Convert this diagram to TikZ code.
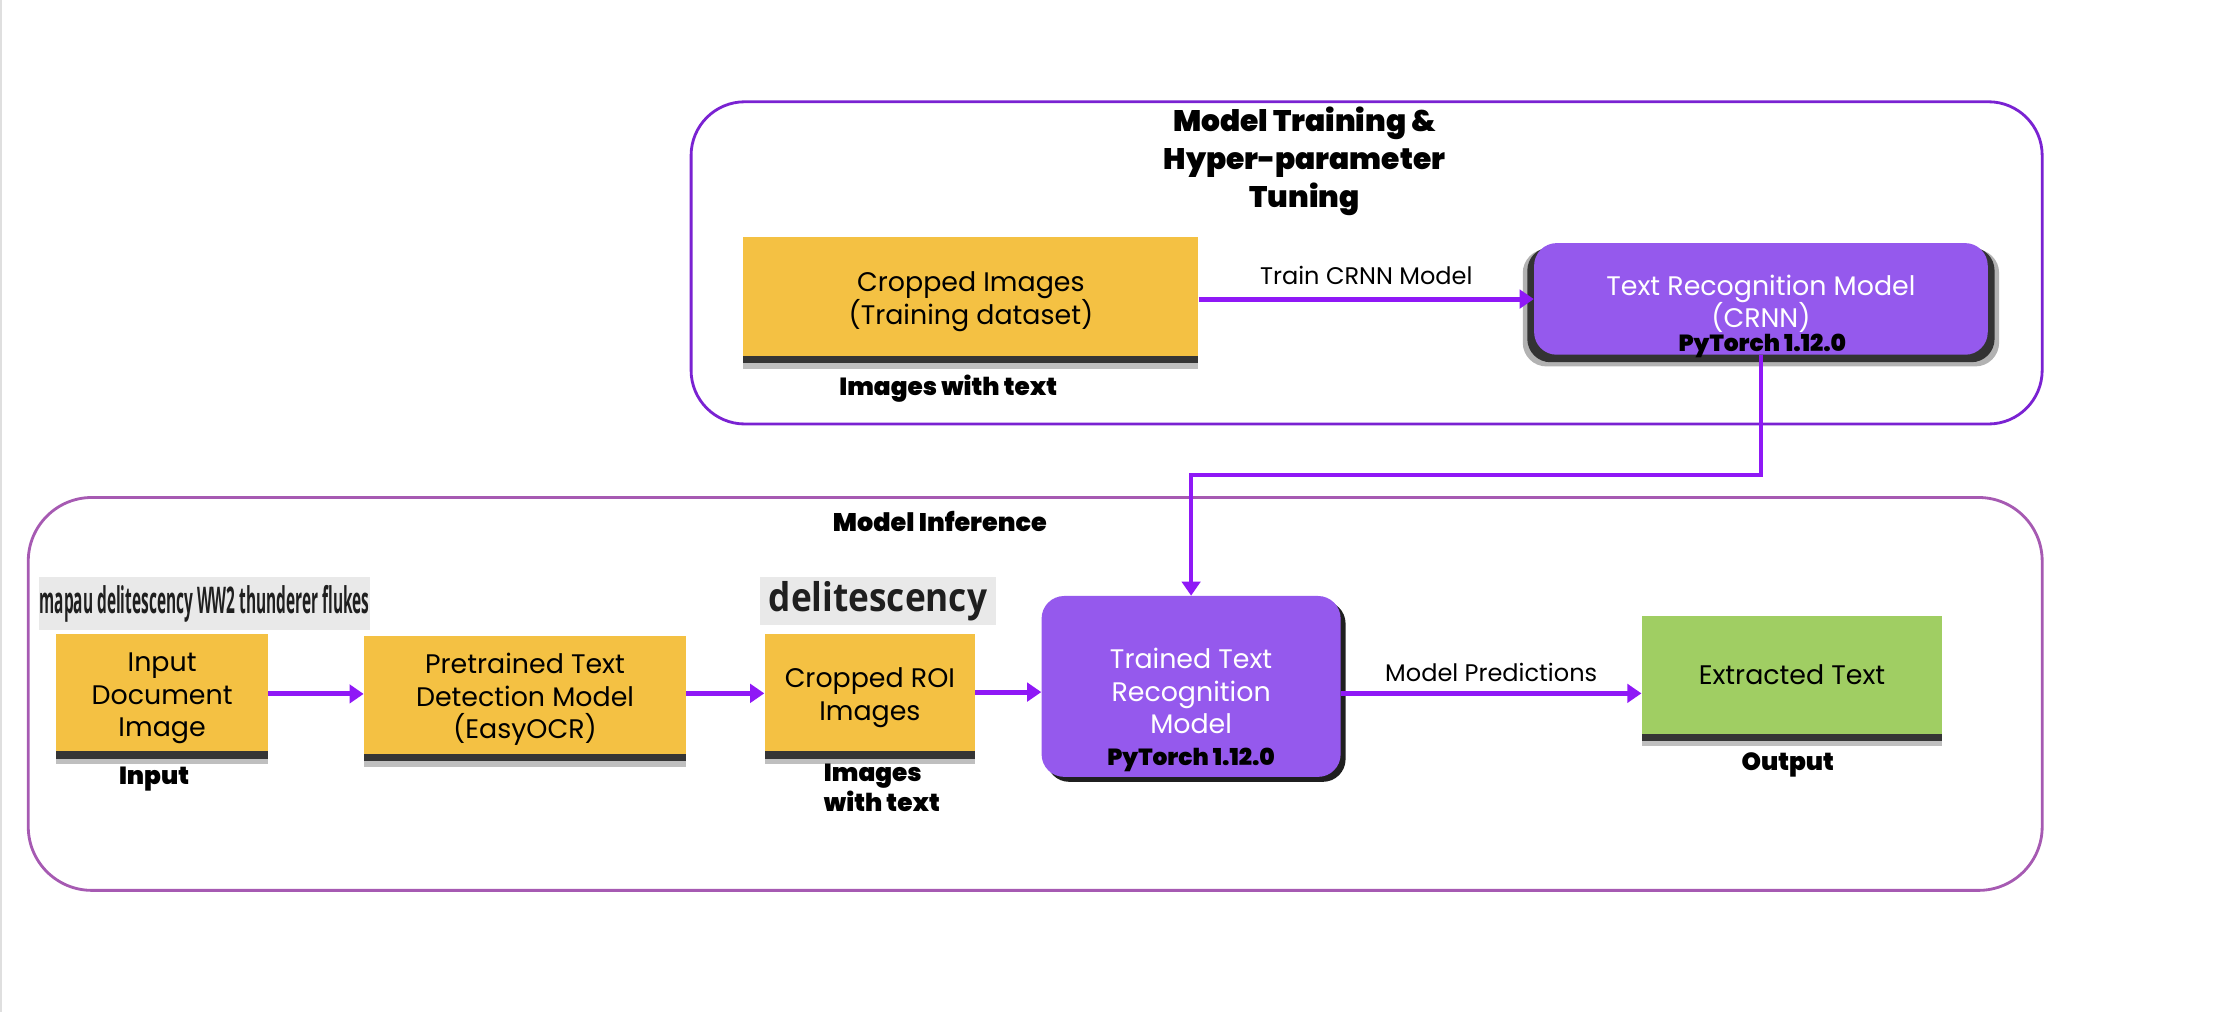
\documentclass[tikz,border=0pt]{standalone}
\usepackage{fontspec}
\usepackage{graphicx}
\setmainfont{Poppins}
\newfontfamily\heavyfont{Poppins Black}
\newfontfamily\snipfont{Open Sans}
\usetikzlibrary{arrows.meta,shadows}

\definecolor{boxyellow}{RGB}{244,193,67}
\definecolor{boxpurple}{RGB}{149,89,237}
\definecolor{boxgreen}{RGB}{160,206,99}
\definecolor{flowviolet}{RGB}{143,24,246}
\definecolor{trainframe}{RGB}{122,34,210}
\definecolor{inferframe}{RGB}{166,90,178}
\definecolor{snipgray}{RGB}{233,233,233}

% extra room above the first line of a box text
\newcommand{\toproom}{\rule{0pt}{21pt}}

\begin{document}
\begin{tikzpicture}[x=1pt,y=-1pt,
  yellowbox/.style={fill=boxyellow,align=center,inner sep=0pt,
    font=\fontsize{19}{23}\selectfont,
    drop shadow={shadow xshift=0pt,shadow yshift=-9pt,fill=black,opacity=0.25},
    drop shadow={shadow xshift=0pt,shadow yshift=-5pt,fill=black!85,opacity=0.9}},
  greenbox/.style={yellowbox,fill=boxgreen},
  purplebox/.style={fill=boxpurple,text=white,align=center,inner sep=0pt,
    font=\fontsize{19}{23}\selectfont,rounded corners=16pt},
  torch/.style={font=\heavyfont\fontsize{16.5}{19}\selectfont},
  tag/.style={font=\heavyfont\fontsize{17.5}{21}\selectfont,align=left},
  flowlabel/.style={font=\fontsize{17}{20}\selectfont,text=black},
  flow/.style={flowviolet,line width=3.5pt,-{Triangle[length=10pt,width=13pt]}},
  snip/.style={fill=snipgray,inner sep=0pt,text=black!88}]

\useasboundingbox (0,0) rectangle (1568,716);
\fill[gray!25] (0,0) rectangle (1.5,716);

% frames
\draw[trainframe,line width=2pt,rounded corners=38pt] (489,72) rectangle (1445,300);
\draw[inferframe,line width=2pt,rounded corners=45pt] (20,352) rectangle (1445,630);
\node[font=\heavyfont\fontsize{21}{27}\selectfont,align=center] (traintitle) at (923,114) {Model Training \&\\Hyper-parameter\\Tuning};
\node[font=\heavyfont\fontsize{18}{22}\selectfont] (infertitle) at (665,369) {Model Inference};

% training
\node[yellowbox,minimum width=322pt,minimum height=84pt] (crop) at (687,210) {\toproom Cropped Images\\(Training dataset)};
\node[tag] (croptag) at (671,275) {Images with text};
\node[purplebox,minimum width=321pt,minimum height=79pt,
  drop shadow={shadow xshift=0pt,shadow yshift=-6pt,shadow scale=1.05,fill=black,opacity=0.3},
  drop shadow={shadow xshift=0pt,shadow yshift=-4pt,shadow scale=1.03,fill=black!85,opacity=0.9}] (crnn) at (1246,211.5) {\toproom Text Recognition Model\\(CRNN)};
\node[torch] (crnntorch) at (1247,244.5) {PyTorch 1.12.0};

% inference
\node[snip,minimum width=234pt,minimum height=38pt] (snipline) at (144.7,427)
  {\snipfont\bfseries\fontsize{26}{26}\selectfont\scalebox{0.42}[1]{mapau delitescency WW2 thunderer flukes}};
\node[snip,minimum width=167pt,minimum height=34pt] (snipword) at (621.2,425.3)
  {\snipfont\bfseries\fontsize{28}{28}\selectfont\scalebox{0.89}[1]{delitescency}};
\node[yellowbox,minimum width=150pt,minimum height=83pt] (doc) at (114.7,490.2) {\toproom Input\\Document\\Image};
\node[tag] (doctag) at (109,551) {Input};
\node[yellowbox,minimum width=228pt,minimum height=83.5pt] (detect) at (371.5,491.7) {\toproom Pretrained Text\\Detection Model\\(EasyOCR)};
\node[yellowbox,minimum width=149pt,minimum height=83pt] (roi) at (615.5,490.2) {\toproom Cropped ROI\\Images};
\node[tag] (roitag) at (624,557.5) {Images\\with text};
\node[purplebox,minimum width=211.6pt,minimum height=128pt,
  drop shadow={shadow xshift=3.5pt,shadow yshift=-3.5pt,fill=black!88,opacity=1}] (trained) at (842.8,485.7) {\toproom Trained Text\\Recognition\\Model};
\node[torch] (trainedtorch) at (842.8,538) {PyTorch 1.12.0};
\node[greenbox,minimum width=212.7pt,minimum height=83pt] (extract) at (1268,477.5) {Extracted Text};
\node[tag] (extracttag) at (1265,541.5) {Output};

% connectors
\draw[flow] (crop.east |- 0,211.6) -- node[above=5pt,flowlabel] {Train CRNN Model} (crnn.west |- 0,211.6);
\draw[flow,line width=2.5pt] (crnn.south) -- ++(0,85) -| (trained.north);
\draw[flow] (doc.east |- 0,491) -- (detect.west |- 0,491);
\draw[flow] (detect.east |- 0,490.6) -- (roi.west |- 0,490.6);
\draw[flow] (roi.east |- 0,489.7) -- (trained.west |- 0,489.7);
\draw[flow] (trained.east |- 0,490.6) -- node[above=3pt,flowlabel] {Model Predictions} (extract.west |- 0,490.6);
\end{tikzpicture}
\end{document}
